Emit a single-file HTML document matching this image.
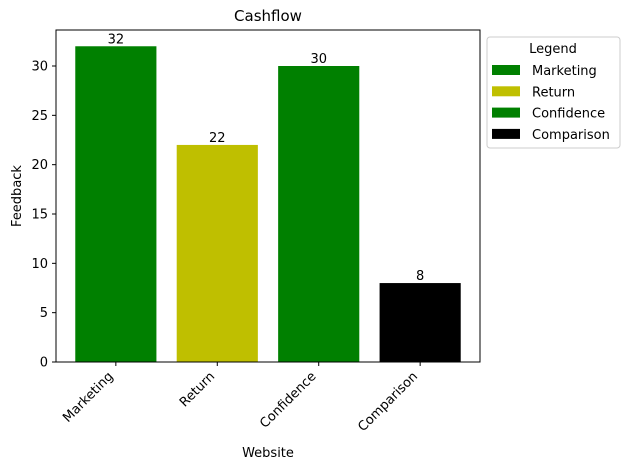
<!DOCTYPE html>
<html><head><meta charset="utf-8"><style>
body{margin:0;background:#fff;}
svg text{font-family:"DejaVu Sans","Liberation Sans",sans-serif;fill:#000;}
</style></head><body>
<svg id="chart" width="629" height="470" xmlns="http://www.w3.org/2000/svg">
<rect width="629" height="470" fill="#fff"/>
<g id="plot"></g>
</svg>
<script>
const categories=["Marketing","Return","Confidence","Comparison"];
const values=[32,22,30,8];
const colors=["#008000","#bfbf00","#008000","#000000"];
const yTicks=[0,5,10,15,20,25,30];
const L=56,R=480,T=30,B=362;
const ns="http://www.w3.org/2000/svg";
const g=document.getElementById('plot');
function x(i){return L+(i+0.59)*(R-L)/4.18;}
function y(v){return B-v*(B-66)/30;}
function el(t,a,txt){const e=document.createElementNS(ns,t);for(const k in a)e.setAttribute(k,a[k]);if(txt!==undefined)e.textContent=txt;g.appendChild(e);return e;}
const bw=0.8*(R-L)/4.18;
categories.forEach((c,i)=>{
 const b=el('rect',{x:x(i)-bw/2,y:y(values[i]),width:bw,height:B-y(values[i]),fill:colors[i]});
 
 
 const lb=el('text',{x:x(i),y:y(values[i])-3,'text-anchor':'middle','font-size':13},values[i]);
 
 
 el('line',{x1:x(i),x2:x(i),y1:B,y2:B+4,stroke:'#000'});
 const t=el('text',{x:0,y:0,'text-anchor':'end','font-size':13,transform:`translate(${x(i)-2},${B+15}) rotate(-45)`},c);
 
 
});
yTicks.forEach(v=>{
 el('line',{x1:L-4,x2:L,y1:y(v),y2:y(v),stroke:'#000'});
 const t=el('text',{x:L-8,y:y(v)+4.5,'text-anchor':'end','font-size':13},v);
 
 
});
const fr=el('rect',{x:L,y:T,width:R-L,height:B-T,fill:'none',stroke:'#000','stroke-width':1});


const ti=el('text',{x:268,y:21,'text-anchor':'middle','font-size':15},'Cashflow');


const xl=el('text',{x:268,y:457,'text-anchor':'middle','font-size':13},'Website');


const yl=el('text',{x:0,y:0,'text-anchor':'middle','font-size':13,transform:'translate(21,196) rotate(-90)'},'Feedback');


const lg=el('rect',{x:487,y:37,width:133,height:111,fill:'#fff',stroke:'#ccc',rx:3});


const lt=el('text',{x:553,y:53,'text-anchor':'middle','font-size':13},'Legend');


categories.forEach((c,i)=>{
 const yy=70+i*21.3;
 const p=el('rect',{x:492,y:yy-5,width:28,height:10,fill:colors[i]});
 
 
 const t=el('text',{x:532,y:yy+5,'font-size':13},c);
 
 
});
</script>
</body></html>
